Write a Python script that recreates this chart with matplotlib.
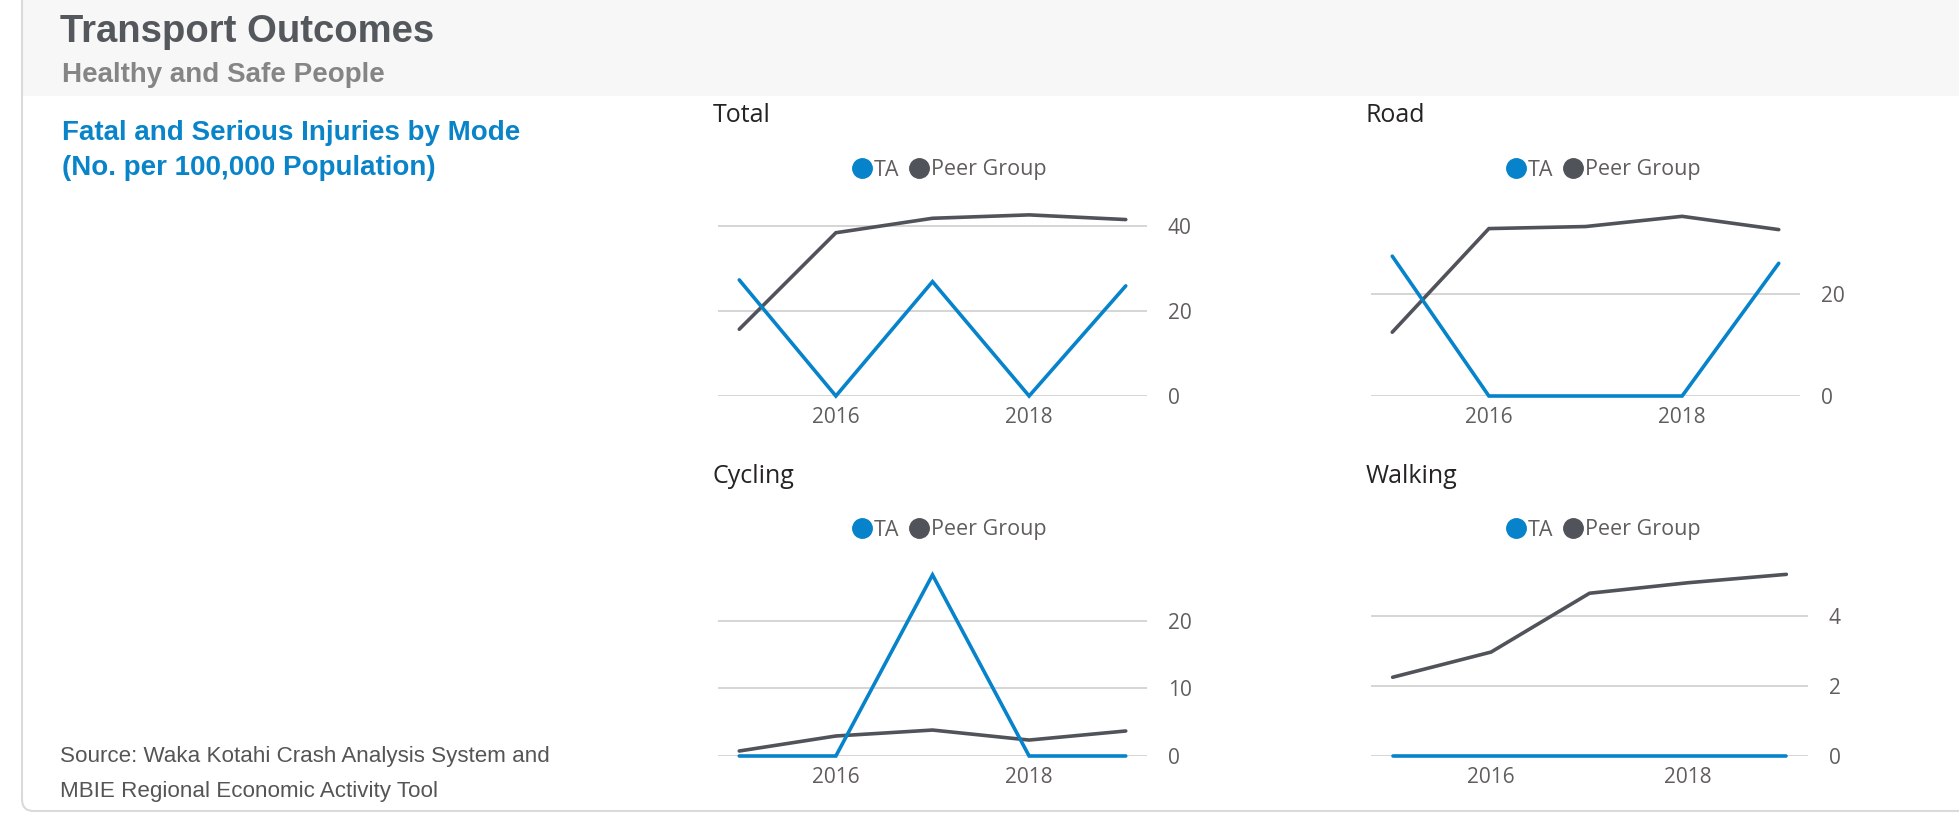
import matplotlib
matplotlib.use("Agg")
import matplotlib.pyplot as plt
from matplotlib.lines import Line2D
from matplotlib.patches import Rectangle, FancyBboxPatch

# ---------------- data ----------------
years = [2015, 2016, 2017, 2018, 2019]
total_ta = [27.3, 0, 26.9, 0, 25.9]
total_peer = [15.7, 38.4, 41.8, 42.6, 41.5]
road_ta = [27.4, 0, 0, 0, 26.0]
road_peer = [12.5, 32.8, 33.2, 35.2, 32.6]
cycling_ta = [0, 0, 26.8, 0, 0]
cycling_peer = [0.74, 2.96, 3.84, 2.36, 3.7]
walking_ta = [0, 0, 0, 0, 0]
walking_peer = [2.25, 2.97, 4.65, 4.95, 5.19]

panel_titles = ["Total", "Road", "Cycling", "Walking"]
series_labels = ["TA", "Peer Group"]
x_ticks = [2016, 2018]
y_ticks = {"Total": [0, 20, 40], "Road": [0, 20], "Cycling": [0, 10, 20], "Walking": [0, 2, 4]}

# ---------------- style ----------------
W, H = 1959, 814
TA_COLOR = "#0683CA"
PEER_COLOR = "#505359"
GRID = "#D2D2D2"
TICK_COLOR = "#605E5C"
HEAD_FONT = ["Liberation Sans", "DejaVu Sans"]
CHART_FONT = ["Open Sans", "DejaVu Sans"]

fig = plt.figure(figsize=(W / 100, H / 100), dpi=100)
fig.patch.set_facecolor("white")

def fx(x):
    return x / W

def fy(y):
    return 1 - y / H

# header band and border
fig.patches.append(Rectangle((fx(23), fy(96)), 1 - fx(23), 96 / H,
                             transform=fig.transFigure, facecolor="#F7F7F7",
                             edgecolor="none", zorder=0))
fig.patches.append(FancyBboxPatch((fx(22), fy(811)), 1.2, (811 + 20) / H,
                                  boxstyle="round,pad=0,rounding_size=0.006",
                                  transform=fig.transFigure, facecolor="none",
                                  edgecolor="#DADADA", linewidth=1.5, zorder=1,
                                  mutation_aspect=W / H))

# header texts
fig.text(fx(60), fy(42.5), "Transport Outcomes", fontsize=27.5, fontweight="bold",
         color="#54585D", family=HEAD_FONT, va="baseline", ha="left")
fig.text(fx(62), fy(82), "Healthy and Safe People", fontsize=20, fontweight="bold",
         color="#858585", family=HEAD_FONT, va="baseline", ha="left")
fig.text(fx(62), fy(140), "Fatal and Serious Injuries by Mode", fontsize=20,
         fontweight="bold", color="#0A84C8", family=HEAD_FONT, va="baseline", ha="left")
fig.text(fx(62), fy(175), "(No. per 100,000 Population)", fontsize=20,
         fontweight="bold", color="#0A84C8", family=HEAD_FONT, va="baseline", ha="left")
fig.text(fx(60), fy(762), "Source: Waka Kotahi Crash Analysis System and", fontsize=16.1,
         color="#555555", family=HEAD_FONT, va="baseline", ha="left")
fig.text(fx(60), fy(797), "MBIE Regional Economic Activity Tool", fontsize=16.1,
         color="#555555", family=HEAD_FONT, va="baseline", ha="left")

# panels: (title, ta, peer, left_px, right_px, bottom_px, ytop_value, title_baseline, legend_cx, legend_cy)
panels = [
    ("Total", total_ta, total_peer, 718, 1147, 396, 46.1, 122, 950, 170),
    ("Road", road_ta, road_peer, 1371, 1800, 396, 38.4, 122, 1604, 170),
    ("Cycling", cycling_ta, cycling_peer, 718, 1147, 756, 29.0, 483, 950, 530),
    ("Walking", walking_ta, walking_peer, 1371, 1808, 756, 5.6, 483, 1604, 530),
]
AX_H = 196

for title, ta, peer, lpx, rpx, bpx, ytop, tbase, lcx, lcy in panels:
    ax = fig.add_axes([fx(lpx), 1 - bpx / H, (rpx - lpx) / W, AX_H / H])
    ax.set_facecolor("none")
    ax.plot(years, peer, color=PEER_COLOR, lw=2.6, clip_on=False, zorder=3,
            solid_capstyle="round", solid_joinstyle="miter")
    ax.plot(years, ta, color=TA_COLOR, lw=2.6, clip_on=False, zorder=4,
            solid_capstyle="round", solid_joinstyle="miter")
    ax.set_xlim(2014.78, 2019.22)
    ax.set_ylim(0, ytop)
    ax.set_xticks(x_ticks)
    ax.set_xticklabels([str(t) for t in x_ticks])
    ax.set_yticks(y_ticks[title])
    ax.yaxis.tick_right()
    ax.grid(axis="y", color=GRID, lw=1.3, zorder=1)
    ax.set_axisbelow(True)
    for s in ax.spines.values():
        s.set_visible(False)
    ax.tick_params(axis="both", length=0, labelsize=15, labelcolor=TICK_COLOR)
    ax.tick_params(axis="y", pad=15)
    ax.tick_params(axis="x", pad=8)
    for lab in ax.get_xticklabels() + ax.get_yticklabels():
        lab.set_family(CHART_FONT)

    fig.text(fx(lpx - 5), fy(tbase), title, fontsize=18, color="#252423",
             family=CHART_FONT, va="baseline", ha="left")

    handles = [Line2D([], [], marker="o", linestyle="", markersize=14,
                      markerfacecolor=c, markeredgecolor=c)
               for c in (TA_COLOR, PEER_COLOR)]
    leg = ax.legend(handles, series_labels, loc="center",
                    bbox_to_anchor=(fx(lcx), fy(lcy)), bbox_transform=fig.transFigure,
                    ncol=2, frameon=False, handlelength=0.8, handletextpad=0.15,
                    columnspacing=0.5, borderaxespad=0,
                    prop={"family": CHART_FONT, "size": 15.5})
    for t in leg.get_texts():
        t.set_color(TICK_COLOR)

fig.savefig("out.png", dpi=100, facecolor=fig.get_facecolor())
